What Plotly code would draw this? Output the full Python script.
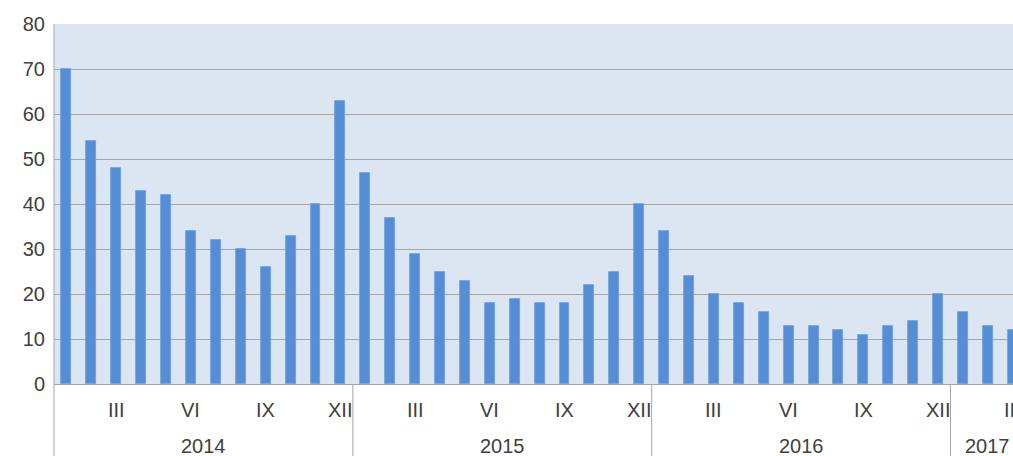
import plotly.graph_objects as go

values_2014 = [70, 54, 48, 43, 42, 34, 32, 30, 26, 33, 40, 63]
values_2015 = [47, 37, 29, 25, 23, 18, 19, 18, 18, 22, 25, 40]
values_2016 = [34, 24, 20, 18, 16, 13, 13, 12, 11, 13, 14, 20]
values_2017 = [16, 13, 12]
years = ["2014", "2015", "2016", "2017"]
month_labels = ["I", "II", "III", "IV", "V", "VI", "VII", "VIII", "IX", "X", "XI", "XII"]
shown_months = ["III", "VI", "IX", "XII"]

series = [values_2014, values_2015, values_2016, values_2017]
values = [v for s in series for v in s]
x_idx = list(range(len(values)))
month_of = [month_labels[i % 12] for i in x_idx]

font_color = "#404040"
fnt = "Liberation Sans, Arial, sans-serif"
fsize = 20
grid_color = "#A6A6A6"

fig = go.Figure()
fig.add_trace(go.Bar(
    x=x_idx, y=values, width=0.4,
    marker=dict(color="#558ED5", line=dict(color="#6C9EE0", width=0.8)),
    showlegend=False,
))

annotations = []
for i, m in zip(x_idx, month_of):
    if m in shown_months:
        annotations.append(dict(x=i, y=-0.072, xref="x", yref="paper", text=m,
                                showarrow=False, font=dict(size=fsize, color=font_color, family=fnt),
                                xanchor="center", yanchor="middle"))
start = 0
shapes = []
for yr, s in zip(years, series):
    center = start + (len(s) - 1) / 2
    annotations.append(dict(x=center, y=-0.172, xref="x", yref="paper", text=yr,
                            showarrow=False, font=dict(size=fsize, color=font_color, family=fnt),
                            xanchor="center", yanchor="middle"))
    if start > 0:
        shapes.append(dict(type="line", xref="x", yref="paper", x0=start - 0.5, x1=start - 0.5,
                           y0=0, y1=-0.21, line=dict(color=grid_color, width=1)))
    start += len(s)
shapes.append(dict(type="line", xref="paper", yref="paper", x0=0, x1=0, y0=-0.21, y1=1,
                   line=dict(color=grid_color, width=1)))

fig.update_layout(
    width=1013, height=456,
    margin=dict(l=54, r=0, t=24, b=72),
    paper_bgcolor="white",
    plot_bgcolor="#DCE6F2",
    bargap=0,
    annotations=annotations,
    shapes=shapes,
    font=dict(family=fnt, size=fsize, color=font_color),
)
fig.update_xaxes(range=[-0.5, 38.01], showticklabels=False, showgrid=False, zeroline=False,
                 showline=False, ticks="")
fig.update_yaxes(range=[0, 80], dtick=10, tick0=0, showgrid=True, gridcolor=grid_color, gridwidth=1,
                 zeroline=True, zerolinecolor=grid_color, zerolinewidth=1, showline=False,
                 ticks="", ticklabelstandoff=8,
                 tickfont=dict(size=fsize, color=font_color, family=fnt))

fig.write_html("out.html", config={"displayModeBar": False},
               post_script="document.body.style.margin='0';document.body.style.overflow='hidden';")
